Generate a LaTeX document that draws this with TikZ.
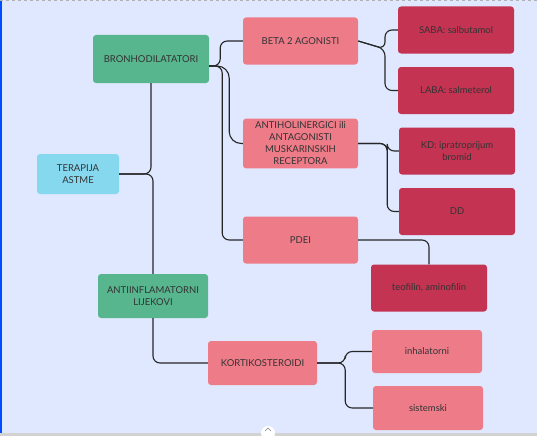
\documentclass[tikz,border=0pt]{standalone}
\usepackage{fontspec}
\setmainfont{Lato}
\usepackage{tikz}
\usetikzlibrary{calc}
\definecolor{PageBg}{HTML}{DFE8FE}
\definecolor{RootBlue}{HTML}{86D8EF}
\definecolor{GroupGreen}{HTML}{58B68F}
\definecolor{ClassPink}{HTML}{EE7B88}
\definecolor{DrugRed}{HTML}{C43452}
\definecolor{InkGray}{HTML}{333333}
\tikzset{
  mapbox/.style={rectangle, rounded corners=3pt, draw=none, text=InkGray, align=center, font=\fontsize{9.5}{12}\selectfont},
  rootbox/.style={mapbox, fill=RootBlue, minimum width=82pt, minimum height=40pt},
  groupbox/.style={mapbox, fill=GroupGreen, minimum height=46pt},
  classbox/.style={mapbox, fill=ClassPink, minimum width=115pt, minimum height=47pt},
  drugbox/.style={mapbox, fill=DrugRed, minimum width=116pt, minimum height=47pt},
  link/.style={draw=black!85, line width=1.1pt, rounded corners=7pt}
}
\begin{document}
\begin{tikzpicture}[x=1pt, y=-1pt]
  % page
  \fill[PageBg] (0,0) rectangle (537,436);
  \useasboundingbox (0,0) rectangle (537,436);
  \fill[blue!70!cyan] (0,0) rectangle (2,433);
  \draw[gray!60, dashed, line width=0.5pt] (0,0.5) -- (537,0.5);
  \fill[gray!35] (0,433) rectangle (537,436);

  % root and groups
  \node[rootbox] (ter) at (78,174) {TERAPIJA\\ASTME};
  \node[groupbox, minimum width=116pt, minimum height=48pt] (bron) at (151,59) {BRONHODILATATORI};
  \node[groupbox, minimum width=110pt, minimum height=44pt] (anti) at (153,296) {ANTIINFLAMATORNI\\LIJEKOVI};

  % classes
  \node[classbox] (beta) at (300.5,41) {BETA 2 AGONISTI};
  \node[classbox] (antih) at (300.5,143.5) {ANTIHOLINERGICI ili\\ANTAGONISTI\\MUSKARINSKIH\\RECEPTORA};
  \node[classbox] (pdei) at (300.5,240) {PDEI};
  \node[classbox, minimum width=109pt, minimum height=44pt] (kort) at (262.5,363) {KORTIKOSTEROIDI};

  % drugs
  \node[drugbox] (saba) at (456,30) {SABA: salbutamol};
  \node[drugbox] (laba) at (456,90.5) {LABA: salmeterol};
  \node[drugbox] (kd) at (457,151) {KD: ipratroprijum\\bromid};
  \node[drugbox] (dd) at (457,211.5) {DD};
  \node[drugbox] (teo) at (429,288) {teofilin, aminofilin};
  \node[classbox, minimum width=110pt, minimum height=43pt] (inh) at (427,351.5) {inhalatorni};
  \node[classbox, minimum width=110pt, minimum height=44pt] (sis) at (428,408) {sistemski};

  % connectors
  \coordinate (bout) at ($(bron.east)+(0,7)$);
  \draw[link] (ter.east) -| (bron.south);
  \draw[link] (ter.east) -| (anti.north);
  \draw[link] (bout) -- ++(11,0) |- (beta.west);
  \draw[link, rounded corners=12pt] (bout) -- ++(20,0) |- (antih.west);
  \draw[link] (bout) -- ++(13,0) |- (pdei.west);
  \coordinate (bsplit) at (385,49);
  \draw[link] (beta.east) -- (bsplit) |- (saba.west);
  \draw[link] (beta.east) -- (bsplit) |- (laba.west);
  \draw[link] (antih.east) -- ++(29,0) |- (kd.west);
  \draw[link] (antih.east) -- ++(29,0) |- (dd.west);
  \draw[link] (pdei.east) -| (teo.north);
  \draw[link] (anti.south) |- (kort.west);
  \draw[link] (kort.east) -- ++(28,0) |- (inh.west);
  \draw[link] (kort.east) -- ++(28,0) |- (sis.west);

  % scroll handle
  \fill[white] (268,433) circle (7);
  \draw[gray, line width=0.6pt] (265,431) -- (268,428) -- (271,431);
\end{tikzpicture}
\end{document}
